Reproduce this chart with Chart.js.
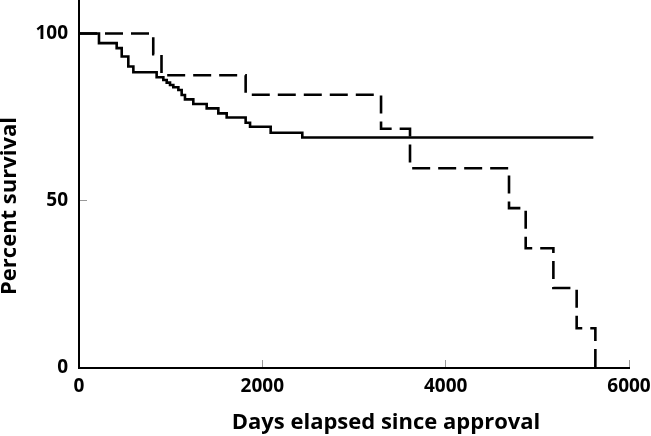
<!DOCTYPE html>
<html>
<head>
<meta charset="utf-8">
<script src="https://cdn.jsdelivr.net/npm/chart.js@4"></script>
<style>
  html, body { margin: 0; padding: 0; background: #fff; }
  #wrap { width: 651px; height: 436px; }
</style>
</head>
<body>
<div id="wrap"><canvas id="chart"></canvas></div>
<script>
// Values (Kaplan-Meier steps: value after each event day)
const solidDays = [0, 218, 411, 466, 538, 593, 847, 920, 957, 993, 1029, 1084, 1120, 1156, 1247, 1393, 1520, 1611, 1818, 1866, 2091, 2436, 5611];
const solidSurvival = [100, 97.1, 95.6, 93.1, 90.1, 88.4, 86.9, 86.1, 85.3, 84.6, 83.9, 83.1, 81.6, 80.3, 78.9, 77.6, 76.1, 74.9, 73.3, 72.1, 70.3, 68.9, 68.9];
const dashedDays = [0, 810, 900, 1818, 3295, 3611, 4691, 4873, 5175, 5429, 5633];
const dashedSurvival = [100, 93.8, 87.5, 81.7, 71.5, 59.7, 47.8, 35.8, 23.9, 11.9, 0];

const xTicks = [0, 2000, 4000, 6000];
const yTicks = [0, 50, 100];
const xTitle = 'Days elapsed since approval';
const yTitle = 'Percent survival';

const toPoints = (days, values) => days.map((d, i) => ({ x: d, y: values[i] }));

// Axis titles drawn by hand so they sit where the original puts them
const axisTitles = {
    id: 'axisTitles',
    afterDraw(chart) {
        const ctx = chart.ctx;
        const area = chart.chartArea;
        ctx.save();
        ctx.fillStyle = '#000';
        ctx.font = 'bold 22px "Open Sans"';
        ctx.textAlign = 'center';
        ctx.textBaseline = 'middle';
        ctx.fillText(xTitle, area.left + 307, area.bottom + 55);
        ctx.translate(10, area.top + 206);
        ctx.rotate(-Math.PI / 2);
        ctx.fillText(yTitle, 0, 0);
        ctx.restore();
    }
};

Chart.defaults.font.family = '"Open Sans"';

new Chart(document.getElementById('chart').getContext('2d'), {
    type: 'line',
    data: {
        datasets: [
            {
                label: 'solid',
                data: toPoints(solidDays, solidSurvival),
                borderColor: '#000',
                borderWidth: 2.6,
                pointRadius: 0,
                stepped: true,
                fill: false
            },
            {
                label: 'dashed',
                data: toPoints(dashedDays, dashedSurvival),
                borderColor: '#000',
                borderWidth: 2.6,
                borderDash: [18, 8],
                pointRadius: 0,
                stepped: true,
                fill: false
            }
        ]
    },
    options: {
        responsive: true,
        maintainAspectRatio: false,
        animation: false,
        layout: { padding: { top: 0, right: 22, bottom: 0, left: 0 } },
        plugins: {
            legend: { display: false },
            tooltip: { enabled: false }
        },
        scales: {
            x: {
                type: 'linear',
                min: 0,
                max: 6000,
                afterBuildTicks: scale => { scale.ticks = xTicks.map(v => ({ value: v })); },
                afterFit: scale => { scale.height = 68; scale.paddingLeft = 0; scale.paddingRight = 0; },
                border: { color: '#000', width: 2 },
                grid: { drawOnChartArea: false, drawTicks: true, tickLength: -8, color: '#999', lineWidth: 1 },
                ticks: { color: '#000', font: { size: 19, weight: 'bold' }, padding: 15, maxRotation: 0, callback: v => String(v) }
            },
            y: {
                min: 0,
                max: 110,
                afterBuildTicks: scale => { scale.ticks = yTicks.map(v => ({ value: v })); },
                afterFit: scale => { scale.width = 79; scale.paddingTop = 0; scale.paddingBottom = 0; },
                border: { color: '#000', width: 2 },
                grid: { drawOnChartArea: false, drawTicks: true, tickLength: -8, color: '#999', lineWidth: 1 },
                ticks: { color: '#000', font: { size: 19, weight: 'bold' }, padding: 19, callback: v => String(v) }
            }
        }
    },
    plugins: [axisTitles]
});
</script>
</body>
</html>
